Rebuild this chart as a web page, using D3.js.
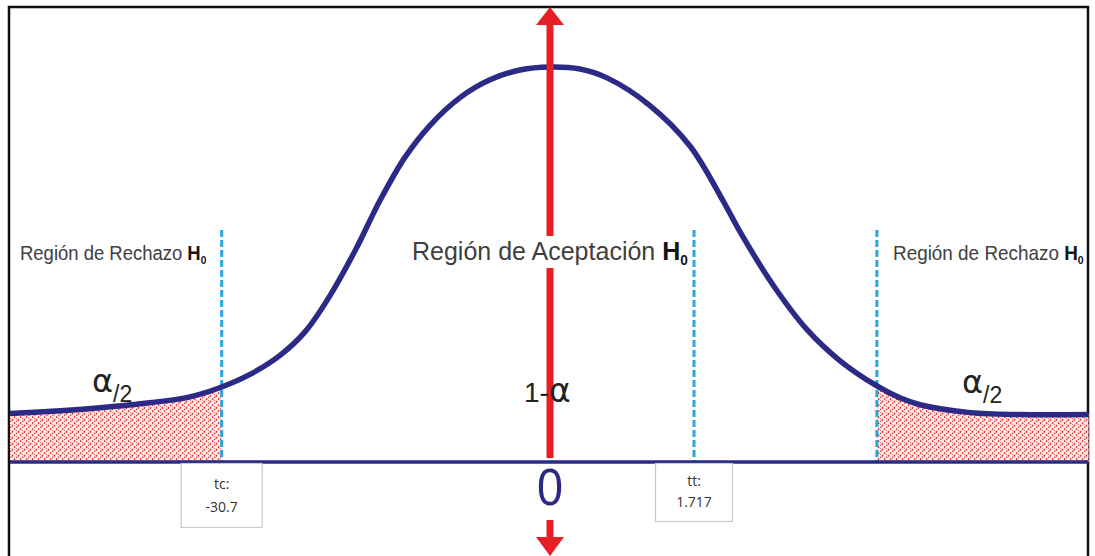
<!DOCTYPE html>
<html lang="es">
<head>
<meta charset="utf-8">
<title>Región de aceptación y rechazo</title>
<script src="https://d3js.org/d3.v7.min.js"></script>
<style>
  body { margin: 0; background: #fff; }
  svg { display: block; font-family: "Liberation Sans", Arial, sans-serif; }
</style>
</head>
<body>
<svg id="chart" width="1095" height="556"></svg>
<script>
// curve (x in t units, y in density units)
const curveX = [-3.75, -3.40, -3.125, -2.78, -2.50, -2.28, -2.08, -1.875, -1.70, -1.53, -1.35, -1.18, -1.01, -0.833, -0.625, -0.417, -0.208, 0,
                0.208, 0.396, 0.694, 0.972, 1.20, 1.32, 1.55, 1.785, 2.01, 2.27, 2.43, 2.57, 2.92, 3.26, 3.74];
const curveY = [0.049, 0.052, 0.055, 0.060, 0.066, 0.076, 0.089, 0.108, 0.132, 0.168, 0.215, 0.265, 0.308, 0.341, 0.369, 0.387, 0.397, 0.400,
                0.398, 0.389, 0.361, 0.320, 0.265, 0.233, 0.179, 0.134, 0.103, 0.077, 0.065, 0.058, 0.050, 0.048, 0.048];

// limits of the rejection regions and the two boxed values
const rejectLow = -2.28;
const rejectHigh = 2.27;
const boxNames = ["tc:", "tt:"];
const boxValues = ["-30.7", "1.717"];
const boxPos = [-2.28, 1.0];

const regionLabels = ["Región de Rechazo ", "Región de Aceptación ", "Región de Rechazo "];

const svg = d3.select("#chart");
const data = curveX.map((x, i) => ({x: x, y: curveY[i]}));

const xScale = d3.scaleLinear().domain([-3.75, 3.75]).range([10, 1090]);
const yScale = d3.scaleLinear().domain([0, 0.4]).range([462, 67]);

const navy = "#2b2a86";
const red = "#e61f25";
const blue = "#2aa6d8";

// crosshatch used for the tails
const defs = svg.append("defs");
const pat = defs.append("pattern")
  .attr("id", "hatch").attr("patternUnits", "userSpaceOnUse")
  .attr("width", 6).attr("height", 6);
pat.append("rect").attr("width", 6).attr("height", 6).attr("fill", "#fcebe9");
pat.append("path").attr("d", "M0,6 L6,0 M-1,1 L1,-1 M5,7 L7,5")
  .attr("stroke", "#d9302c").attr("stroke-width", 1.2).attr("stroke-dasharray", "1.6,1.4");
pat.append("path").attr("d", "M0,0 L6,6")
  .attr("stroke", "#e0504c").attr("stroke-width", 1).attr("stroke-dasharray", "1.2,1.8");

// frame
svg.append("rect")
  .attr("x", 9).attr("y", 7).attr("width", 1079).attr("height", 580)
  .attr("fill", "none").attr("stroke", "#111").attr("stroke-width", 2.5);

const area = d3.area()
  .x(d => xScale(d.x))
  .y0(yScale(0))
  .y1(d => yScale(d.y))
  .curve(d3.curveCatmullRom);

svg.append("path")
  .datum(data.filter(d => d.x <= rejectLow))
  .attr("d", area).attr("fill", "url(#hatch)");
svg.append("path")
  .datum(data.filter(d => d.x >= rejectHigh))
  .attr("d", area).attr("fill", "url(#hatch)");

// dashed limits
const dashX = [rejectLow, boxPos[1], rejectHigh];
svg.selectAll(".limit")
  .data(dashX)
  .enter()
  .append("line")
    .attr("class", "limit")
    .attr("x1", d => xScale(d)).attr("x2", d => xScale(d))
    .attr("y1", 230).attr("y2", yScale(0))
    .attr("stroke", blue).attr("stroke-width", 3)
    .attr("stroke-dasharray", "7,3");

// baseline
svg.append("line")
  .attr("x1", 10).attr("x2", 1088)
  .attr("y1", yScale(0)).attr("y2", yScale(0))
  .attr("stroke", navy).attr("stroke-width", 3.5);

// bell curve
const line = d3.line()
  .x(d => xScale(d.x))
  .y(d => yScale(d.y))
  .curve(d3.curveCatmullRom);

svg.append("path")
  .datum(data)
  .attr("d", line)
  .attr("fill", "none").attr("stroke", navy).attr("stroke-width", 5.5);

// red double arrow on the mean, broken where text sits on it
const cx = xScale(0);
const shaft = [[22, 236], [268, 458], [520, 540]];
svg.selectAll(".shaft")
  .data(shaft)
  .enter()
  .append("line")
    .attr("class", "shaft")
    .attr("x1", cx).attr("x2", cx)
    .attr("y1", d => d[0]).attr("y2", d => d[1])
    .attr("stroke", red).attr("stroke-width", 7);
svg.append("path")
  .attr("d", `M${cx},7 L${cx + 14},25 L${cx - 14},25 Z`).attr("fill", red);
svg.append("path")
  .attr("d", `M${cx},556 L${cx + 14},537 L${cx - 14},537 Z`).attr("fill", red);

// region labels
function regionLabel(x, y, size, sx, txt) {
  const g = svg.append("g").attr("transform", `translate(${x},${y}) scale(${sx},1)`);
  const t = g.append("text").attr("font-size", size).attr("fill", "#404040");
  t.append("tspan").text(txt);
  t.append("tspan").attr("font-weight", "bold").attr("fill", "#151515").text("H");
  t.append("tspan").attr("font-weight", "bold").attr("fill", "#151515")
    .attr("font-size", size * 0.55).attr("dy", size * 0.18).text("0");
}
regionLabel(20, 260, 21, 0.88, regionLabels[0]);
regionLabel(412, 260, 25, 1.0, regionLabels[1]);
regionLabel(893, 260, 21, 0.9, regionLabels[2]);

// alpha/2 labels
function halfAlpha(x, y) {
  const t = svg.append("text").attr("x", x).attr("y", y).attr("fill", "#222");
  t.append("tspan").attr("font-family", "'DejaVu Sans', sans-serif").attr("font-size", 32).text("α");
  t.append("tspan").attr("font-size", 23).attr("dy", 10).text("/2");
}
halfAlpha(92, 392);
halfAlpha(962, 393);

// 1 - alpha
const oneMinus = svg.append("text").attr("x", 524).attr("y", 402).attr("fill", "#222");
oneMinus.append("tspan").attr("font-size", 28).text("1-");
oneMinus.append("tspan").attr("font-family", "'DejaVu Sans', sans-serif").attr("font-size", 33).text("α");

// zero under the mean
svg.append("text")
  .attr("x", cx).attr("y", 505).attr("text-anchor", "middle")
  .attr("font-size", 52).attr("fill", navy)
  .attr("transform", `translate(${cx},0) scale(0.9,1) translate(${-cx},0)`)
  .text("0");

// value boxes
const boxW = [81, 77];
const boxH = [64, 58];
boxNames.forEach((name, i) => {
  const bx = xScale(boxPos[i]);
  svg.append("rect")
    .attr("x", bx - boxW[i] / 2).attr("y", yScale(0) + 1.5)
    .attr("width", boxW[i]).attr("height", boxH[i])
    .attr("fill", "#fff").attr("stroke", "#c9c9c9").attr("stroke-width", 1.2);
  svg.append("text")
    .attr("x", bx).attr("y", yScale(0) + boxH[i] * 0.42)
    .attr("text-anchor", "middle").attr("font-family", "'Open Sans', sans-serif")
    .attr("font-size", 14).attr("fill", "#333").text(name);
  svg.append("text")
    .attr("x", bx).attr("y", yScale(0) + boxH[i] * 0.78)
    .attr("text-anchor", "middle").attr("font-family", "'Open Sans', sans-serif")
    .attr("font-size", 14).attr("fill", "#333").text(boxValues[i]);
});
</script>
</body>
</html>
